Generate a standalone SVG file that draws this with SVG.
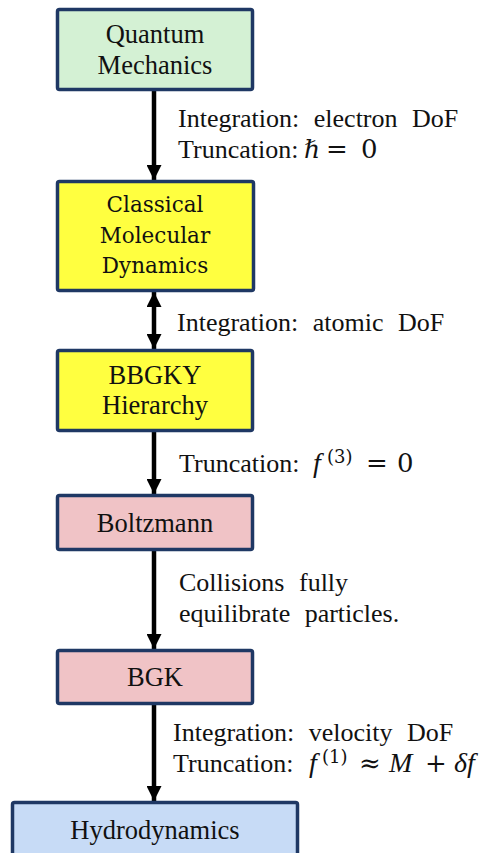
<svg xmlns="http://www.w3.org/2000/svg" width="483" height="853" viewBox="0 0 483 853">
<defs>
<style>
.box{stroke:#1F3864;stroke-width:3.5}
.bt{font-family:"Liberation Serif","Times New Roman",serif;font-size:26.5px;fill:#111;text-anchor:middle}
.bt2{font-family:"DejaVu Serif",serif;font-size:21.5px;fill:#111;text-anchor:middle}
.lb{font-family:"Liberation Serif","Times New Roman",serif;font-size:26px;fill:#111;word-spacing:8px}
.m{font-family:"DejaVu Serif","Liberation Serif",serif;font-size:26px;fill:#111}
.mi{font-family:"Liberation Serif",serif;font-style:italic;font-size:28px;fill:#111}
.hb{font-family:"DejaVu Serif",serif;font-style:italic;font-size:25px;fill:#111}
.sup{font-family:"DejaVu Serif",serif;font-size:18px;fill:#111}
.ln{stroke:#000;stroke-width:4.5;fill:none}
</style>
<marker id="ah" viewBox="0 0 10 10" refX="10" refY="5" markerUnits="userSpaceOnUse" markerWidth="16" markerHeight="15" orient="auto-start-reverse">
<path d="M0,0 L10,5 L0,10 Z" fill="#000"/>
</marker>
</defs>
<rect width="483" height="853" fill="#fff"/>
<g id="connectors">
<line class="ln" x1="154" y1="91" x2="154" y2="180" marker-end="url(#ah)"/>
<line class="ln" x1="154" y1="292" x2="154" y2="349" marker-start="url(#ah)" marker-end="url(#ah)"/>
<line class="ln" x1="154" y1="432" x2="154" y2="494" marker-end="url(#ah)"/>
<line class="ln" x1="154" y1="551" x2="154" y2="649" marker-end="url(#ah)"/>
<line class="ln" x1="154" y1="705" x2="154" y2="801" marker-end="url(#ah)"/>
</g>
<g id="labels">
<text class="lb" x="178" y="127">Integration: electron DoF</text>
<text class="lb" x="178" y="158">Truncation:</text>
<text class="hb" x="304" y="158">ℏ</text>
<text class="m" x="326" y="158">=</text>
<text class="m" x="361" y="158">0</text>
<text class="lb" x="177" y="331">Integration: atomic DoF</text>
<text class="lb" x="179" y="472">Truncation:</text>
<text class="mi" x="313" y="472">f</text>
<text class="sup" x="327" y="463">(3)</text>
<text class="m" x="366" y="472">=</text>
<text class="m" x="397" y="472">0</text>
<text class="lb" x="179" y="591">Collisions fully</text>
<text class="lb" x="179" y="622">equilibrate particles.</text>
<text class="lb" x="173" y="741">Integration: velocity DoF</text>
<text class="lb" x="173" y="772">Truncation:</text>
<text class="mi" x="309" y="772">f</text>
<text class="sup" x="322" y="763">(1)</text>
<text class="m" x="359" y="772">≈</text>
<text class="mi" x="389" y="772">M</text>
<text class="m" x="425" y="772">+</text>
<text class="mi" x="454" y="772">δf</text>
</g>
<g id="n1">
<rect class="box" x="57.5" y="9.5" width="195" height="80" rx="2" fill="#D4F1D4"/>
<text class="bt" x="155" y="43">Quantum</text>
<text class="bt" x="155" y="74">Mechanics</text>
</g>
<g id="n2">
<rect class="box" x="57.5" y="181.5" width="196" height="109" rx="2" fill="#FFFF40"/>
<text class="bt2" x="155" y="212">Classical</text>
<text class="bt2" x="155" y="243">Molecular</text>
<text class="bt2" x="155" y="273">Dynamics</text>
</g>
<g id="n3">
<rect class="box" x="57.5" y="350.5" width="195" height="80" rx="2" fill="#FFFF40"/>
<text class="bt" x="155" y="384">BBGKY</text>
<text class="bt" x="155" y="414">Hierarchy</text>
</g>
<g id="n4">
<rect class="box" x="57.5" y="495.5" width="195" height="54" rx="2" fill="#F0C3C6"/>
<text class="bt" x="155" y="532">Boltzmann</text>
</g>
<g id="n5">
<rect class="box" x="57.5" y="650.5" width="195" height="53" rx="2" fill="#F0C3C6"/>
<text class="bt" x="155" y="686">BGK</text>
</g>
<g id="n6">
<rect class="box" x="12.5" y="802.5" width="285" height="60" rx="2" fill="#C7DBF6"/>
<text class="bt" x="155" y="839">Hydrodynamics</text>
</g>
</svg>
